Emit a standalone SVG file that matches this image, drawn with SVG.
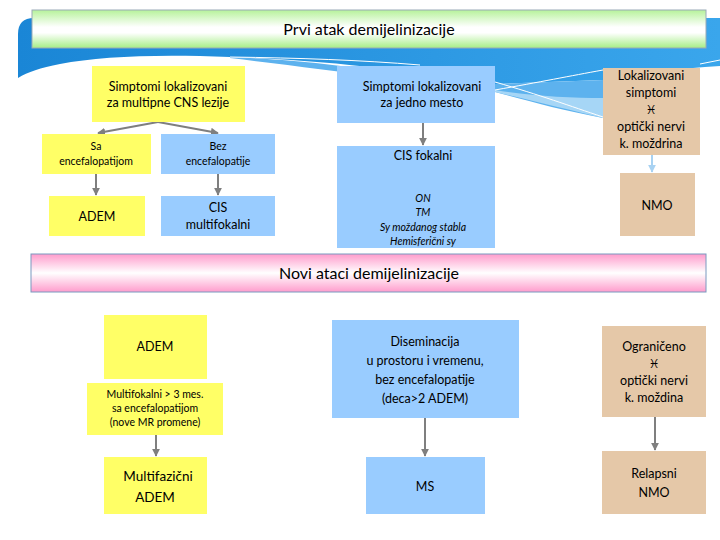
<svg xmlns="http://www.w3.org/2000/svg" width="720" height="540" viewBox="0 0 720 540">
<defs>
<linearGradient id="gGreen" x1="0" y1="0" x2="0" y2="1">
<stop offset="0" stop-color="#b6f29a"/><stop offset="0.45" stop-color="#ffffff"/><stop offset="0.6" stop-color="#ffffff"/><stop offset="1" stop-color="#a6ee86"/>
</linearGradient>
<linearGradient id="gPink" x1="0" y1="0" x2="0" y2="1">
<stop offset="0" stop-color="#ff9ccc"/><stop offset="0.5" stop-color="#ffffff"/><stop offset="1" stop-color="#ff9ccc"/>
</linearGradient>
<linearGradient id="gBlue" x1="0" y1="0" x2="1" y2="0">
<stop offset="0" stop-color="#1a86d6"/><stop offset="1" stop-color="#3aa6ec"/>
</linearGradient>
<marker id="ah" viewBox="0 0 10 10" refX="9" refY="5" markerWidth="4" markerHeight="4" orient="auto">
<path d="M0,0 L10,5 L0,10 z" fill="#7f7f7f"/>
</marker>
<marker id="ahl" viewBox="0 0 10 10" refX="9" refY="5" markerWidth="4" markerHeight="4" orient="auto">
<path d="M0,0 L10,5 L0,10 z" fill="#a8d2f2"/>
</marker>
</defs>
<style>
text{font-family:Lato,"Liberation Sans","DejaVu Sans",sans-serif;fill:#000;text-anchor:middle}
.hd{font-size:16px}
.t12{font-size:12.5px}
.t10{font-size:10.5px}
.it{font-style:italic}
.y{fill:#ffff66}
.b{fill:#99ccff}
.n{fill:#e5c8a8}
.c{stroke:#7f7f7f;stroke-width:2;fill:none;marker-end:url(#ah)}
.cl{stroke:#a8d2f2;stroke-width:2;fill:none;marker-end:url(#ahl)}
.wl{stroke:#ffffff;stroke-width:1;fill:none}
</style>
<rect width="720" height="540" fill="#fff"/>
<g id="background">
<path d="M18,34 Q18,18 34,18 L720,18 L720,66 C680,68 640,74 603,80 L495,84 C420,72 330,60 230,57 C160,54 100,56 60,64 C40,68 28,72 18,78 Z" fill="url(#gBlue)"/>
<path d="M230,57 C300,60 330,64 400,74 L495,84 L603,80 L603,118 C560,110 525,100 495,92 C420,82 330,70 230,58 Z" fill="#5db2ee"/>
<path d="M495,92 C530,100 570,110 603,118 L603,98 C570,98 530,96 495,90 Z" fill="#a6d6f6"/>
<path class="wl" d="M230,57 C300,58 360,60 420,65"/>
<path class="wl" d="M495,90 C540,82 570,76 603,70"/>
<path class="wl" d="M495,82 C540,95 570,106 603,117"/>
<path class="wl" d="M700,64 L720,60"/>
</g>
<g id="connectors">
<path class="c" d="M158,122 L98,133"/>
<path class="c" d="M158,122 L218,133"/>
<path class="c" d="M96,174 L96,195"/>
<path class="c" d="M218,174 L218,195"/>
<path class="c" d="M423,123 L423,145"/>
<path class="cl" d="M652,155 L652,172"/>
<path class="c" d="M156,435 L156,456"/>
<path class="c" d="M425,418 L425,456"/>
<path class="c" d="M655,417 L655,450"/>
</g>
<g id="prvi-atak">
<rect x="32" y="10" width="674" height="38" fill="url(#gGreen)" stroke="#9aaab8" stroke-width="1"/>
<text class="hd" x="369" y="35">Prvi atak demijelinizacije</text>
</g>
<g id="multipne">
<rect class="y" x="92" y="66" width="153" height="56"/>
<text class="t12" x="168" y="91">Simptomi lokalizovani</text>
<text class="t12" x="168" y="107">za multipne CNS lezije</text>
</g>
<g id="jedno-mesto">
<rect class="b" x="337" y="66" width="158" height="57"/>
<text class="t12" x="422" y="91">Simptomi lokalizovani</text>
<text class="t12" x="422" y="107">za jedno mesto</text>
</g>
<g id="lokalizovani">
<rect class="n" x="603" y="68" width="97" height="87"/>
<text class="t12" x="651" y="80">Lokalizovani</text>
<text class="t12" x="651" y="97">simptomi</text>
<text class="t12" x="651" y="114">♓︎</text>
<text class="t12" x="651" y="131">optički nervi</text>
<text class="t12" x="651" y="148">k. moždrina</text>
</g>
<g id="sa-encef">
<rect class="y" x="42" y="134" width="109" height="40"/>
<text class="t10" x="96" y="150">Sa</text>
<text class="t10" x="96" y="165">encefalopatijom</text>
</g>
<g id="bez-encef">
<rect class="b" x="161" y="134" width="114" height="40"/>
<text class="t10" x="218" y="150">Bez</text>
<text class="t10" x="218" y="165">encefalopatije</text>
</g>
<g id="adem1">
<rect class="y" x="49" y="196" width="96" height="40"/>
<text class="t12" x="97" y="221">ADEM</text>
</g>
<g id="cis-multi">
<rect class="b" x="161" y="196" width="114" height="40"/>
<text class="t12" x="218" y="212">CIS</text>
<text class="t12" x="218" y="229">multifokalni</text>
</g>
<g id="cis-fokalni">
<rect class="b" x="337" y="146" width="158" height="102"/>
<text class="t12" x="423" y="160">CIS fokalni</text>
<text class="t10 it" x="423" y="202">ON</text>
<text class="t10 it" x="423" y="216">TM</text>
<text class="t10 it" x="423" y="231">Sy moždanog stabla</text>
<text class="t10 it" x="423" y="245">Hemisferični sy</text>
</g>
<g id="nmo1">
<rect class="n" x="620" y="173" width="75" height="63"/>
<text class="t12" x="657" y="210">NMO</text>
</g>
<g id="novi-ataci">
<rect x="31" y="254" width="675" height="38" fill="url(#gPink)" stroke="#7a9ac0" stroke-width="1"/>
<text class="hd" x="369" y="279">Novi ataci demijelinizacije</text>
</g>
<g id="adem2">
<rect class="y" x="104" y="315" width="103" height="64"/>
<text class="t12" x="155" y="351">ADEM</text>
</g>
<g id="multifokalni3">
<rect class="y" x="87" y="383" width="136" height="52"/>
<text class="t10" x="155" y="398">Multifokalni  &gt; 3 mes.</text>
<text class="t10" x="155" y="412">sa encefalopatijom</text>
<text class="t10" x="155" y="426">(nove MR promene)</text>
</g>
<g id="multifazicni">
<rect class="y" x="104" y="457" width="103" height="57"/>
<text style="font-size:13.5px" x="158" y="481">Multifazični</text>
<text style="font-size:13.5px" x="155" y="502">ADEM</text>
</g>
<g id="diseminacija">
<rect class="b" x="332" y="320" width="187" height="98"/>
<text class="t12" x="425" y="346">Diseminacija</text>
<text class="t12" x="425" y="365">u prostoru i vremenu,</text>
<text class="t12" x="425" y="384">bez encefalopatije</text>
<text class="t12" x="425" y="403">(deca&gt;2 ADEM)</text>
</g>
<g id="ms">
<rect class="b" x="366" y="457" width="119" height="57"/>
<text class="t12" x="425" y="491">MS</text>
</g>
<g id="ograniceno">
<rect class="n" x="602" y="326" width="104" height="91"/>
<text class="t12" x="654" y="351">Ograničeno</text>
<text class="t12" x="654" y="368">♓︎</text>
<text class="t12" x="654" y="385">optički nervi</text>
<text class="t12" x="654" y="402">k. moždina</text>
</g>
<g id="relapsni">
<rect class="n" x="602" y="451" width="104" height="63"/>
<text class="t12" x="654" y="478">Relapsni</text>
<text class="t12" x="654" y="497">NMO</text>
</g>
</svg>
